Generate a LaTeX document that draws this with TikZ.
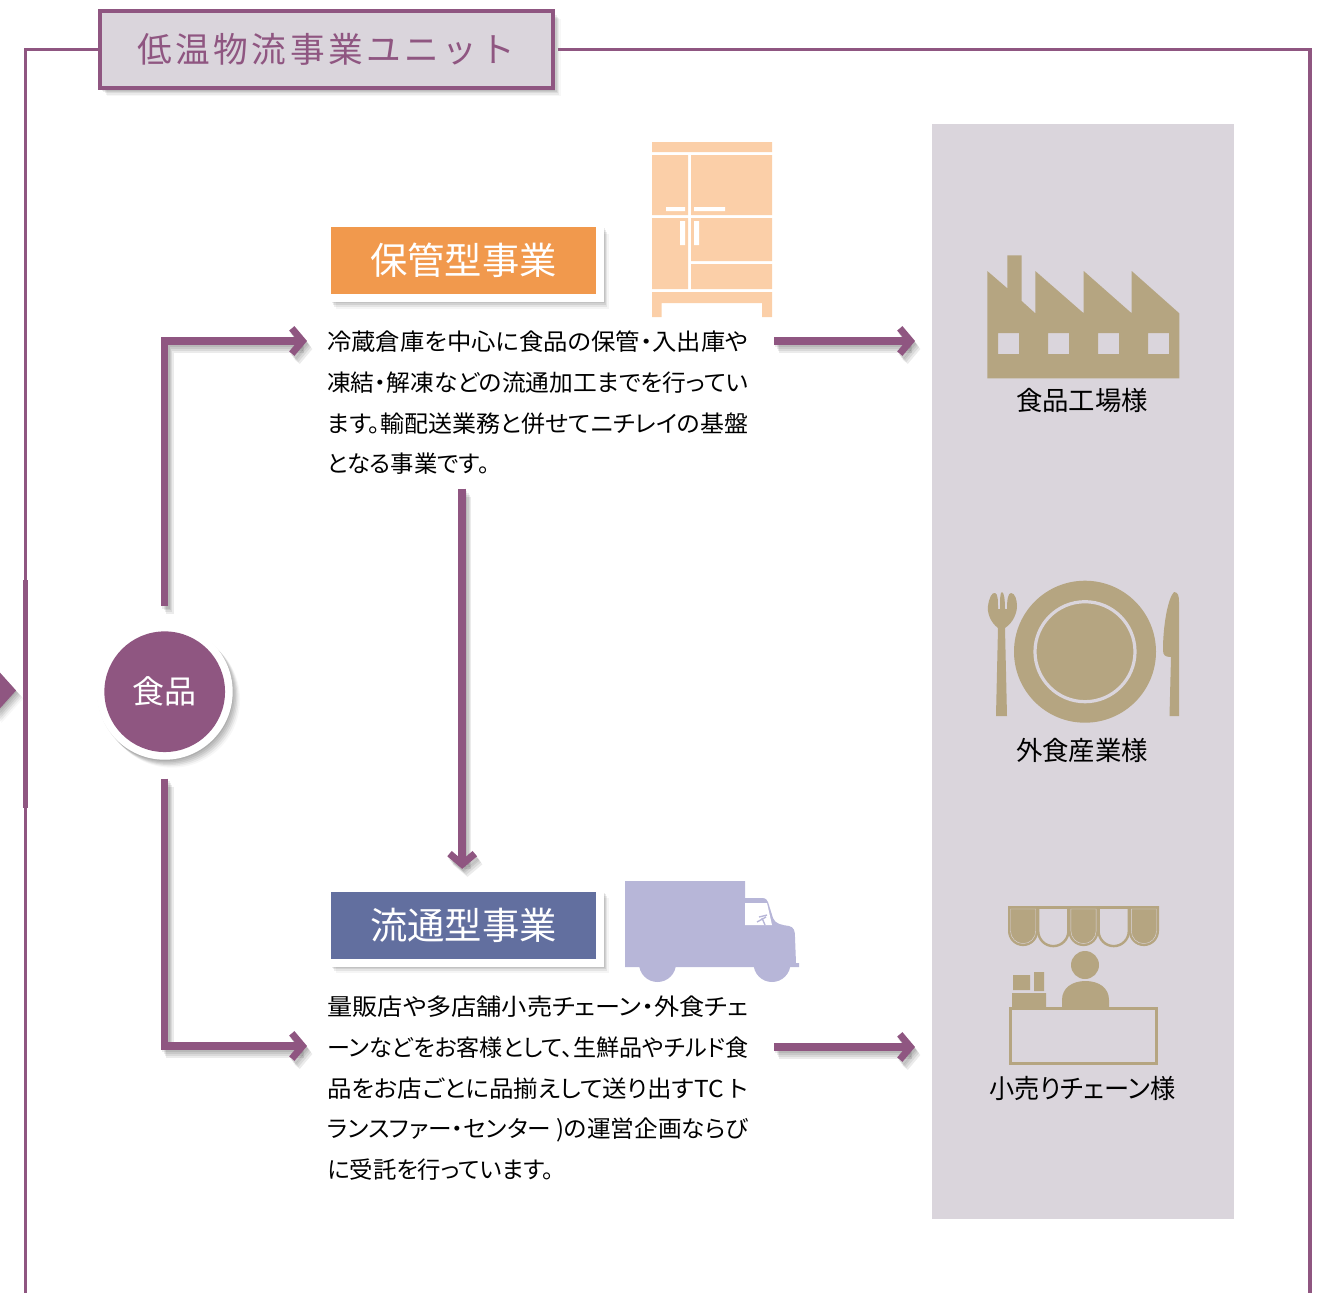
\documentclass[tikz,border=0pt]{standalone}
\usepackage{graphicx}
\usepackage{fontspec}
\setmainfont{Noto Sans CJK JP}
\usetikzlibrary{arrows.meta, shadows}
\definecolor{unitpurple}{HTML}{8F5681}
\definecolor{panelgray}{HTML}{DAD5DC}
\definecolor{icontan}{HTML}{B5A581}
\definecolor{storeorange}{HTML}{F1994D}
\definecolor{fridgepeach}{HTML}{FBCFA8}
\definecolor{flowblue}{HTML}{626F9F}
\definecolor{trucklilac}{HTML}{B7B6D8}
\tikzset{
    softshadow/.style={
        drop shadow={shadow xshift=0.5pt, shadow yshift=-1pt, opacity=0.07, fill=black},
        drop shadow={shadow xshift=1.5pt, shadow yshift=-2pt, opacity=0.07, fill=black},
        drop shadow={shadow xshift=2.5pt, shadow yshift=-3pt, opacity=0.07, fill=black},
        drop shadow={shadow xshift=3.5pt, shadow yshift=-4pt, opacity=0.07, fill=black},
        drop shadow={shadow xshift=4.5pt, shadow yshift=-5pt, opacity=0.05, fill=black},
        drop shadow={shadow xshift=5.5pt, shadow yshift=-6pt, opacity=0.03, fill=black}},
    boxshadow/.style={
        drop shadow={shadow xshift=3.5pt, shadow yshift=-4pt, opacity=0.08, fill=black},
        drop shadow={shadow xshift=4.5pt, shadow yshift=-5pt, opacity=0.08, fill=black},
        drop shadow={shadow xshift=5.5pt, shadow yshift=-6.5pt, opacity=0.07, fill=black},
        drop shadow={shadow xshift=6.5pt, shadow yshift=-8pt, opacity=0.04, fill=black}},
    flowline/.style={line width=5.6pt, unitpurple, -{Straight Barb[length=8pt, width=19pt, line width=5.2pt]}},
    headbox/.style={boxshadow, draw=white, line width=6pt, minimum width=204.75pt, minimum height=56.25pt,
        inner sep=0pt, text=white, font=\fontsize{28}{30}\selectfont\addfontfeature{RawFeature=+palt}},
    bodytext/.style={anchor=north west, align=left, inner sep=0pt, text=black,
        font=\fontsize{17.5}{30.5}\selectfont\addfontfeature{RawFeature=+palt}},
    iconlabel/.style={inner sep=0pt, text=black, font=\fontsize{19.8}{24}\selectfont\addfontfeature{RawFeature=+palt}},
}
\newcommand{\fitline}[1]{\resizebox{315.75pt}{\height}{#1}}
\newcommand{\tikzflowarrow}[2][]{%
    \foreach \dx/\dy in {1pt/-2pt, 2pt/-3pt, 3pt/-4.5pt, 4pt/-6pt}{
        \draw[flowline, draw=black, opacity=0.08, #1, transform canvas={xshift=\dx, yshift=\dy}] #2;
    }
    \draw[flowline, #1] #2;
}
\begin{document}
\begin{tikzpicture}[x=0.75pt, y=-0.75pt]
    \useasboundingbox (0,0) rectangle (1325,1293);
    \clip (0,0) rectangle (1325,1293);

    % frame
    \node[draw=unitpurple, fill=panelgray, line width=2.6pt, minimum width=340pt, minimum height=57.5pt, softshadow,
        text=unitpurple, font=\fontsize{26}{30}\selectfont\addfontfeature{LetterSpace=10}] (unitbox) at (326.5,49.5) {低温物流事業ユニット};
    \coordinate (frameleft) at (25.3,1293);
    \coordinate (frameright) at (1310,1293);
    \draw[unitpurple, line width=2.6pt] (unitbox.west) -| (frameleft);
    \draw[unitpurple, line width=2.6pt] ([xshift=2pt]unitbox.east) -| (frameright);
    \fill[unitpurple] (23,580) rectangle (28,808);
    \fill[unitpurple, softshadow] (-6,666) -- (16,690.5) -- (-6,715) -- cycle;

    % customer panel
    \fill[panelgray] (932,124) rectangle (1234,1219);

    % main nodes
    \node[circle, softshadow, fill=white, minimum size=102pt, inner sep=0pt] (foodring) at (164.7,691.7) {};
    \node[circle, fill=unitpurple, minimum size=90.5pt, inner sep=0pt, text=white,
        font=\fontsize{24}{26}\selectfont] (food) at (164.7,691.7) {食品};
    \node[headbox, fill=storeorange] (storebox) at (463.5,260.5) {保管型事業};
    \node[headbox, fill=flowblue] (flowbox) at (463.5,925) {流通型事業};
    \node[bodytext] (storetext) at (327,331)
        {\fitline{冷蔵倉庫を中心に食品の保管・入出庫や}\\\fitline{凍結・解凍などの流通加工までを行ってい}\\\fitline{ます。輸配送業務と併せてニチレイの基盤}\\となる事業です。};
    \node[bodytext] (flowtext) at (327,996)
        {\fitline{量販店や多店舗小売チェーン・外食チェ}\\\fitline{ーンなどをお客様として、生鮮品やチルド食}\\\fitline{品をお店ごとに品揃えして送り出すTC ト}\\\fitline{ランスファー・センター )の運営企画ならび}\\に受託を行っています。};
    \node[iconlabel] (factorylabel) at (1082,400.5) {食品工場様};
    \node[iconlabel] (dininglabel) at (1082,750.5) {外食産業様};
    \node[iconlabel] (retaillabel) at (1082.5,1088.5) {\resizebox{139.5pt}{\height}{小売りチェーン様}};

    % connectors
    \coordinate (storein) at (307,341);
    \coordinate (flowin) at (307,1046);
    \coordinate (storeout) at (774,341);
    \coordinate (flowout) at (774,1047);
    \coordinate (factoryin) at (915,341);
    \coordinate (retailin) at (915,1047);
    \tikzflowarrow[shorten <=13pt]{(foodring.north) |- (storein)}
    \tikzflowarrow[shorten <=14pt]{(foodring.south) |- (flowin)}
    \tikzflowarrow{(storeout) -- (factoryin)}
    \tikzflowarrow{(flowout) -- (retailin)}
    \tikzflowarrow[shorten <=10pt, shorten >=11pt]{([xshift=-1pt]storetext.south -| flowbox.north) -- ([xshift=-1pt]flowbox.north)}

    % freezer icon
    \fill[fridgepeach] (652,142) rectangle (772,152)
        (652,155) rectangle (688,215) (691,155) rectangle (772,215)
        (652,218) rectangle (688,289) (691,218) rectangle (772,261)
        (691,264) rectangle (772,289);
    \fill[fridgepeach] (652,292) -- (772,292) -- (772,317) -- (762,317) -- (762,303) -- (661.5,303) -- (661.5,317) -- (652,317) -- cycle;
    \fill[white] (666,207) rectangle (685,211) (694,207) rectangle (725,211)
        (680,221) rectangle (685,245) (694,221) rectangle (699,245);

    % truck icon
    \fill[trucklilac] (625,881) -- (745,881) -- (745,898) -- (762,898)
        .. controls (766,898) and (767,900) .. (768,902) -- (773,918)
        .. controls (775,924) and (782,925) .. (789,926)
        .. controls (794,927) and (795,931) .. (795,937) -- (796,963) -- (799,963) -- (799,967) -- (625,967) -- cycle;
    \fill[trucklilac] (657.5,963.5) circle[radius=18.5] (772,963.5) circle[radius=18.5];
    \fill[white] (745,903) -- (767,903) -- (772,925) -- (745,925) -- cycle;
    \draw[trucklilac, line width=1pt] (757,922) -- (766,917) (762,918) -- (765,925) (759,917) -- (767,915);

    % factory icon
    \fill[icontan, even odd rule] (987.3,271) -- (1007.3,288.3) -- (1007.3,255.3) -- (1021.7,255.3) -- (1021.7,301)
        -- (1035.3,313.3) -- (1035.3,271) -- (1083.7,313.3) -- (1083.7,271) -- (1131.7,313.3) -- (1131.7,271)
        -- (1179.3,313.3) -- (1179.3,378.3) -- (987.3,378.3) -- cycle
        (998,333) rectangle (1019,354) (1048,333) rectangle (1069,354)
        (1098,333) rectangle (1119,354) (1148,333) rectangle (1169,354);

    % tableware icon
    \fill[icontan] (1085,651.7) circle[radius=71];
    \draw[panelgray, line width=2.4pt] (1085,651.7) circle[radius=50];
    \fill[icontan] (996,716) -- (998,628) .. controls (990,622) and (987,612) .. (988,606)
        .. controls (989,598) and (992,592) .. (995,593) .. controls (998,594) and (998,600) .. (998,609)
        -- (1000,609) .. controls (1000,600) and (1000,592) .. (1002,592) .. controls (1004,592) and (1005,600) .. (1005,609)
        -- (1007,609) .. controls (1007,600) and (1008,593) .. (1011,593) .. controls (1015,593) and (1017,600) .. (1017,606)
        .. controls (1017,612) and (1014,622) .. (1005,628) -- (1007,716) -- cycle;
    \fill[icontan] (1179,716) -- (1169.5,716) -- (1171,657) .. controls (1165,657) and (1163,655) .. (1163,650)
        .. controls (1163,625) and (1168,598) .. (1174,592) .. controls (1178,592) and (1179,596) .. (1179,602) -- cycle;

    % shop icon
    \fill[icontan] (1008,906) rectangle (1159,908.5);
    \foreach \n/\xa in {0/1008, 2/1068.4, 4/1128.8}{
        \fill[icontan] (\xa,906) -- (\xa+30.2,906) -- (\xa+30.2,931) arc[start angle=0, end angle=-180, x radius=15.1, y radius=-15.1] -- cycle;
        \draw[panelgray, line width=0.3pt] (\xa+2.5,909) -- (\xa+27.7,909) -- (\xa+27.7,931) arc[start angle=0, end angle=-180, x radius=12.6, y radius=-12.6] -- cycle;
    }
    \foreach \n/\xa in {1/1038.2, 3/1098.6}{
        \draw[icontan, line width=1.8pt] (\xa,907.2) -- (\xa,931) arc[start angle=180, end angle=360, x radius=15.1, y radius=-15.1] -- (\xa+30.2,907.2);
    }
    \fill[icontan] (1085,965) circle[radius=14];
    \fill[icontan] (1062,1007) -- (1062,1000) .. controls (1062,988) and (1072,981) .. (1085.5,981)
        .. controls (1099,981) and (1109,988) .. (1109,1000) -- (1109,1007) -- cycle;
    \fill[icontan] (1013,975) rectangle (1030,990) (1034,972) rectangle (1044,991) (1012,993) rectangle (1046,1007);
    \draw[icontan, line width=2.1pt] (1010.5,1008.5) rectangle (1156.5,1063.5);
\end{tikzpicture}
\end{document}
